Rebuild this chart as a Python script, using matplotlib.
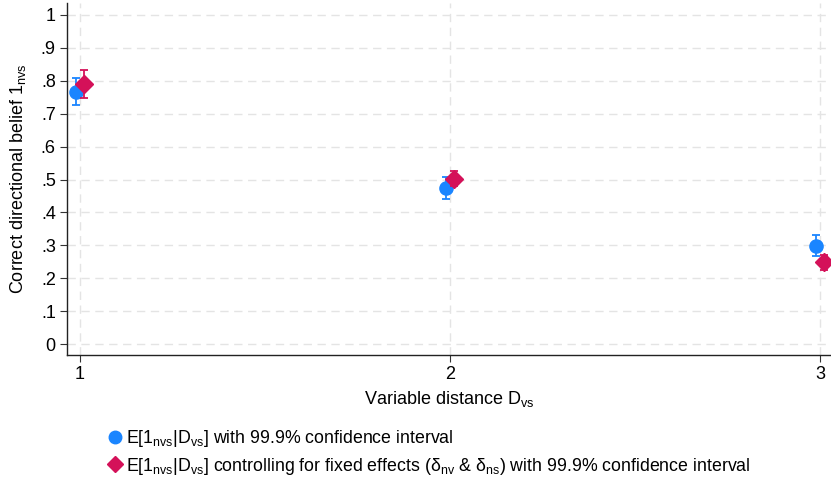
import matplotlib
matplotlib.use("Agg")
import matplotlib.pyplot as plt
from matplotlib.lines import Line2D

plt.rcParams['font.family'] = ['Liberation Sans', 'DejaVu Sans']
plt.rcParams['mathtext.fontset'] = 'custom'
plt.rcParams['mathtext.rm'] = 'Liberation Sans'
plt.rcParams['mathtext.it'] = 'Liberation Sans:italic'

# Data
distance = [1, 2, 3]
xticks = [1, 2, 3]
yticks = [0, .1, .2, .3, .4, .5, .6, .7, .8, .9, 1]
ytick_labels = ["0", ".1", ".2", ".3", ".4", ".5", ".6", ".7", ".8", ".9", "1"]

mean_raw = [0.766, 0.474, 0.298]
lo_raw = [0.725, 0.440, 0.268]
hi_raw = [0.808, 0.508, 0.330]

mean_fe = [0.790, 0.503, 0.248]
lo_fe = [0.748, 0.481, 0.226]
hi_fe = [0.832, 0.525, 0.270]

blue = '#1A85FF'
pink = '#D41159'
offset = 0.011

fig = plt.figure(figsize=(8.31, 4.78), dpi=100)
ax = fig.add_axes([0.0806, 0.2573, 0.9194, 0.7364])

xb = [d - offset for d in distance]
xp = [d + offset for d in distance]
ax.errorbar(xb, mean_raw,
            yerr=[[m - l for m, l in zip(mean_raw, lo_raw)], [h - m for m, h in zip(mean_raw, hi_raw)]],
            fmt='o', color=blue, ms=9.5, capsize=3, elinewidth=1.3, capthick=1.3, zorder=3)
ax.errorbar(xp, mean_fe,
            yerr=[[m - l for m, l in zip(mean_fe, lo_fe)], [h - m for m, h in zip(mean_fe, hi_fe)]],
            fmt='D', color=pink, ms=9, capsize=3, elinewidth=1.3, capthick=1.3, zorder=4)

ax.set_xlim(0.965, 3.03)
ax.set_ylim(-0.033, 1.036)
ax.set_xticks(xticks)
ax.set_xticklabels([str(t) for t in xticks], fontsize=13)
ax.set_yticks(yticks)
ax.set_yticklabels(ytick_labels, fontsize=13)
ax.tick_params(axis='both', direction='out', length=5, width=0.8, color='#333333', pad=3)
ax.grid(True, color='#e4e4e4', linestyle=(0, (6, 4)), linewidth=1.0, zorder=0)
ax.set_axisbelow(True)
for s in ['top', 'right']:
    ax.spines[s].set_visible(False)
for s in ['left', 'bottom']:
    ax.spines[s].set_linewidth(1.0)
    ax.spines[s].set_color('#222222')

ax.set_xlabel(r"Variable distance D$_{\rm vs}$", fontsize=13, labelpad=4)
ax.set_ylabel(r"Correct directional belief 1$_{\rm nvs}$", fontsize=13, labelpad=9)

handles = [
    Line2D([], [], marker='o', color=blue, linestyle='none', ms=9),
    Line2D([], [], marker='D', color=pink, linestyle='none', ms=8.5),
]
labels = [
    r"E[1$_{\rm nvs}$|D$_{\rm vs}$] with 99.9% confidence interval",
    r"E[1$_{\rm nvs}$|D$_{\rm vs}$] controlling for fixed effects (δ$_{\rm nv}$ & δ$_{\rm ns}$) with 99.9% confidence interval",
]
fig.legend(handles, labels, loc='upper left', bbox_to_anchor=(0.1175, 0.12),
           frameon=False, fontsize=12.8, handletextpad=0.12, handlelength=1.1,
           labelspacing=0.38, borderaxespad=0)

fig.savefig('out.png', dpi=100)
